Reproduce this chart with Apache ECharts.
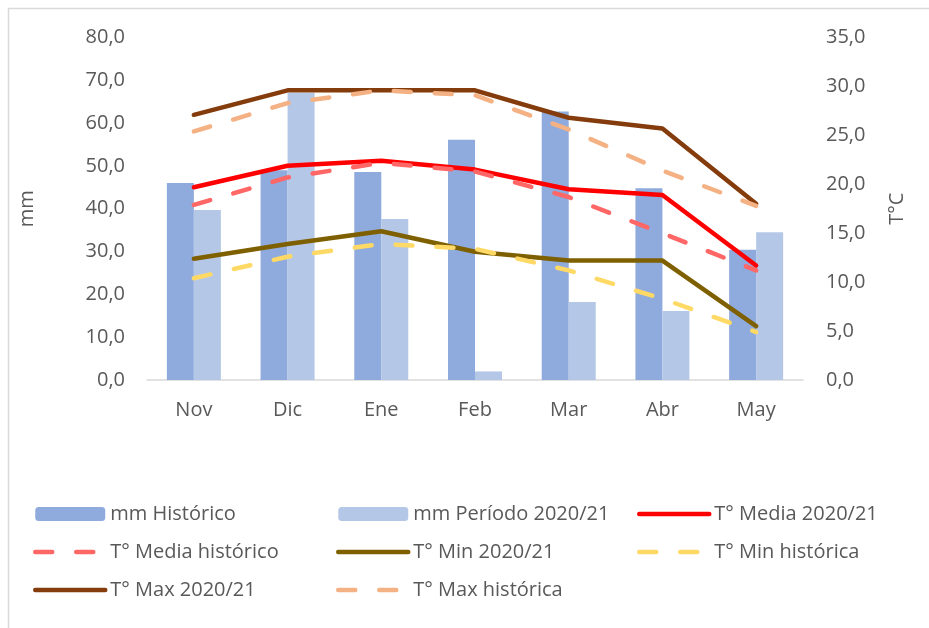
<!DOCTYPE html>
<html lang="es">
  <head>
    <meta charset="UTF-8" />
    <title>Precipitación y temperatura</title>
    <script src="https://cdn.jsdelivr.net/npm/echarts@6.0.0/dist/echarts.min.js"></script>
    <style>
      html, body { margin: 0; padding: 0; background: #fff; }
      #main { width: 929px; height: 628px; }
    </style>
  </head>
  <body>
    <div id="main"></div>

    <script>
      const categories = ['Nov', 'Dic', 'Ene', 'Feb', 'Mar', 'Abr', 'May'];
      const mmHistorico = [46.0, 49.0, 48.6, 56.1, 62.7, 44.8, 30.4];
      const mmPeriodo = [39.7, 67.1, 37.6, 2.0, 18.2, 16.1, 34.5];
      const tMedia = [19.7, 21.9, 22.4, 21.5, 19.5, 18.9, 11.7];
      const tMediaHist = [17.9, 20.7, 22.2, 21.3, 18.7, 15.0, 11.2];
      const tMin = [12.4, 13.9, 15.2, 13.1, 12.2, 12.2, 5.5];
      const tMinHist = [10.4, 12.6, 13.9, 13.4, 11.2, 8.3, 4.9];
      const tMax = [27.1, 29.6, 29.6, 29.6, 26.8, 25.7, 18.0];
      const tMaxHist = [25.4, 28.3, 29.6, 29.1, 25.6, 21.4, 17.8];

      const font = '"Open Sans", sans-serif';
      const grey = '#595959';
      const dash = [17, 24];
      const fmt = (v) => v.toFixed(1).replace('.', ',');

      function lineSeries(name, data, color, dashed) {
        return {
          name: name,
          type: 'line',
          yAxisIndex: 1,
          data: data,
          symbol: 'none',
          showSymbol: false,
          lineStyle: {
            color: color,
            width: 4.5,
            type: dashed ? dash : 'solid',
            cap: 'round',
            join: 'round',
          },
          itemStyle: { color: color },
        };
      }

      // line entries in the legend: no marker, just the thick line
      function lineItem(name) {
        return {
          name: name,
          itemStyle: { opacity: 0 },
          lineStyle: { width: 4.5, cap: 'round' },
        };
      }

      function legendCol(left, items) {
        return {
          orient: 'vertical',
          left: left,
          top: 504,
          padding: 0,
          itemWidth: 70,
          itemHeight: 14,
          itemGap: 18,
          data: items,
          textStyle: { fontFamily: font, fontSize: 20, color: grey, lineHeight: 20 },
        };
      }

      const chart = echarts.init(document.getElementById('main'));

      chart.setOption({
        animation: false,
        textStyle: { fontFamily: font },
        graphic: [
          {
            type: 'rect',
            shape: { x: 8.5, y: 8.5, width: 940, height: 640 },
            style: { fill: 'none', stroke: '#d9d9d9', lineWidth: 1.5 },
          },
        ],
        grid: { left: 147, right: 126, top: 37.5, bottom: 248 },
        legend: [
          legendCol(33, ['mm Histórico', lineItem('T° Media histórico'), lineItem('T° Max 2020/21')]),
          legendCol(336, ['mm Período 2020/21', lineItem('T° Min 2020/21'), lineItem('T° Max histórica')]),
          legendCol(637, [lineItem('T° Media 2020/21'), lineItem('T° Min histórica')]),
        ],
        xAxis: {
          type: 'category',
          data: categories,
          axisLine: { lineStyle: { color: '#d9d9d9', width: 1.5 } },
          axisTick: { length: 6, lineStyle: { color: '#d9d9d9', width: 1.5 } },
          axisLabel: { color: grey, fontSize: 20, fontFamily: font, margin: 20 },
        },
        yAxis: [
          {
            type: 'value',
            min: 0,
            max: 80,
            interval: 10,
            name: 'mm',
            nameLocation: 'middle',
            nameGap: 110,
            nameTextStyle: { color: grey, fontSize: 20, fontFamily: font },
            axisLine: { show: false },
            axisTick: { show: false },
            splitLine: { show: false },
            axisLabel: { color: grey, fontSize: 20, fontFamily: font, margin: 22, formatter: fmt },
          },
          {
            type: 'value',
            min: 0,
            max: 35,
            interval: 5,
            name: 'T°C',
            nameLocation: 'middle',
            nameGap: 84,
            nameTextStyle: { color: grey, fontSize: 20, fontFamily: font },
            axisLine: { show: false },
            axisTick: { show: false },
            splitLine: { show: false },
            axisLabel: { color: grey, fontSize: 20, fontFamily: font, margin: 23, formatter: fmt },
          },
        ],
        series: [
          {
            name: 'mm Histórico',
            type: 'bar',
            data: mmHistorico,
            barWidth: 27,
            barGap: '0%',
            itemStyle: { color: '#8faadc' },
          },
          {
            name: 'mm Período 2020/21',
            type: 'bar',
            data: mmPeriodo,
            barWidth: 27,
            barGap: '0%',
            itemStyle: { color: '#b4c7e7' },
          },
          lineSeries('T° Media 2020/21', tMedia, '#ff0000', false),
          lineSeries('T° Media histórico', tMediaHist, '#ff6666', true),
          lineSeries('T° Min 2020/21', tMin, '#7f6000', false),
          lineSeries('T° Min histórica', tMinHist, '#ffd966', true),
          lineSeries('T° Max 2020/21', tMax, '#843c0c', false),
          lineSeries('T° Max histórica', tMaxHist, '#f4b183', true),
        ],
      });
    </script>
  </body>
</html>
